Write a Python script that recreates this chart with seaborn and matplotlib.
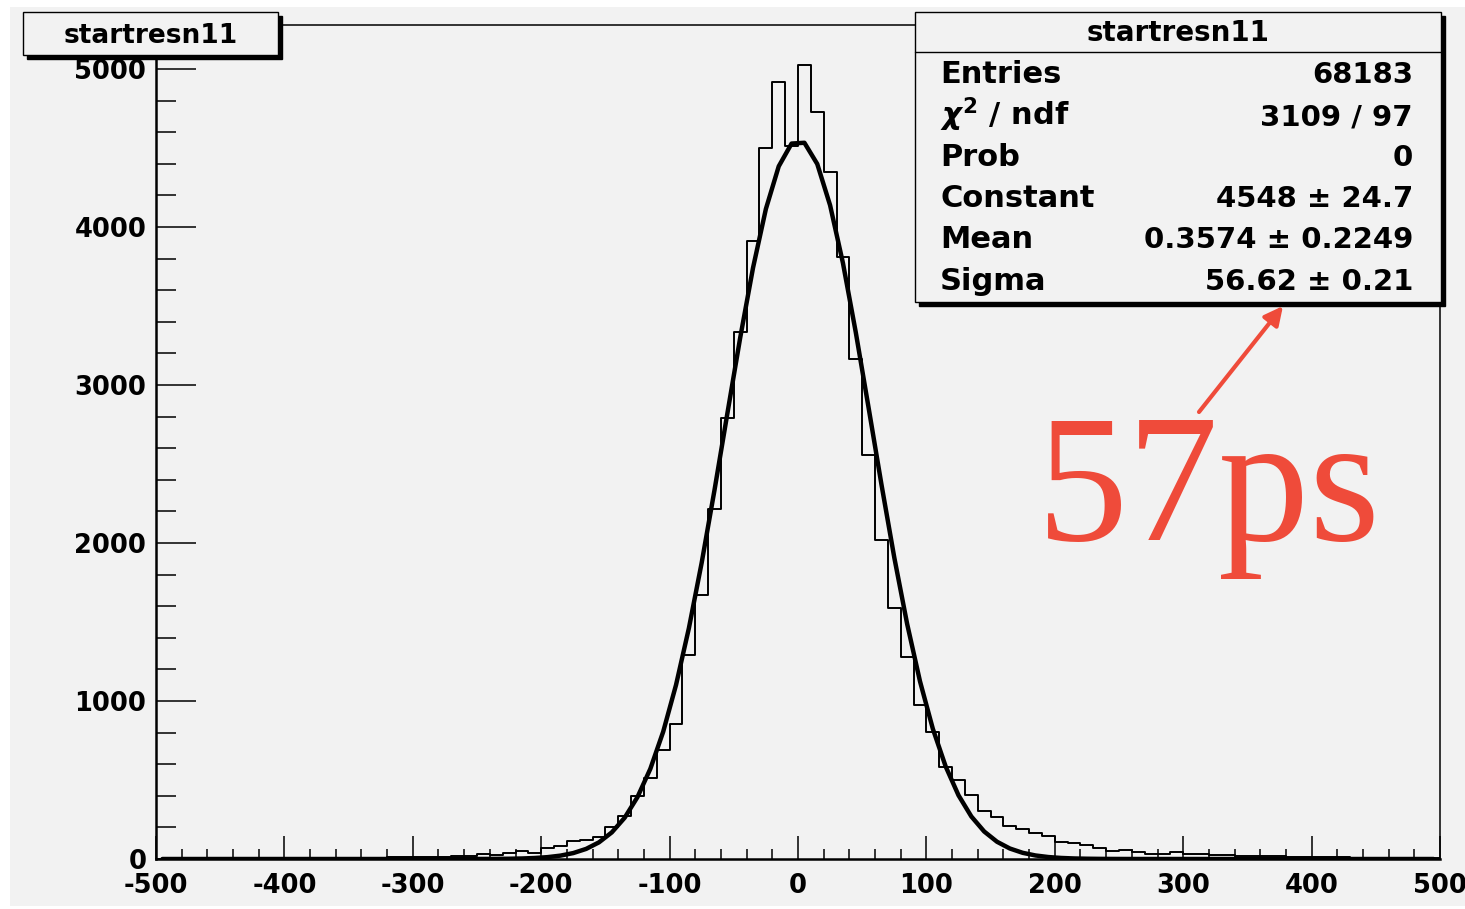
import numpy as np
import pandas as pd
import matplotlib
matplotlib.use("Agg")
import matplotlib.pyplot as plt
from matplotlib.patches import Rectangle, FancyArrowPatch
from matplotlib.ticker import MultipleLocator
import seaborn as sns

# ---- data -------------------------------------------------------------
hist_name = "startresn11"
bin_lo, bin_hi, bin_width = -500, 500, 10

# counts per 10 ps bin, from -500 to 500
counts = [
    1, 2, 1, 2, 2, 3, 2, 3, 3, 4,                 # -500 .. -400
    4, 5, 4, 6, 5, 7, 8, 9, 10, 11,               # -400 .. -300
    12, 13, 15, 16, 20, 32, 27, 38, 53, 40,       # -300 .. -200
    72, 84, 112, 118, 141, 204, 272, 399, 511, 690,       # -200 .. -100
    854, 1290, 1671, 2213, 2789, 3337, 3913, 4502, 4920, 4513,  # -100 .. 0
    5027, 4728, 4350, 3812, 3163, 2557, 2019, 1587, 1276, 975,  # 0 .. 100
    806, 584, 500, 405, 304, 264, 209, 188, 163, 146,     # 100 .. 200
    110, 99, 91, 70, 53, 60, 42, 32, 33, 42,      # 200 .. 300
    32, 30, 27, 25, 22, 20, 20, 17, 15, 12,       # 300 .. 400
    11, 10, 10, 9, 9, 8, 8, 7, 7, 6,              # 400 .. 500
]

# gaussian fit result
fit_constant = 4548
fit_mean = 0.3574
fit_sigma = 56.62

stats_labels = ["Entries", r"$\chi^{2}$ / ndf", "Prob", "Constant", "Mean", "Sigma"]
stats_values = ["68183", "3109 / 97", "0", "4548 \u00b1 24.7",
                "0.3574 \u00b1 0.2249", "56.62 \u00b1 0.21"]

x_ticks = [-500, -400, -300, -200, -100, 0, 100, 200, 300, 400, 500]
y_ticks = [0, 1000, 2000, 3000, 4000, 5000]
annotation = "57ps"

# ---- figure -----------------------------------------------------------
W, H = 1465, 909
BG = "#F2F2F2"
RED = "#EF4B3A"

sns.set_style("white")
plt.rcParams["font.family"] = ["DejaVu Sans"]
plt.rcParams["font.weight"] = "bold"
plt.rcParams["mathtext.fontset"] = "dejavusans"
plt.rcParams["text.color"] = "black"
plt.rcParams["xtick.color"] = "black"
plt.rcParams["ytick.color"] = "black"
plt.rcParams["axes.labelcolor"] = "black"


def fx(px):
    return px / W


def fy(py):
    return 1 - py / H


fig = plt.figure(figsize=(W / 100, H / 100), dpi=100, facecolor="white")
fig.add_artist(Rectangle((fx(10), fy(906)), fx(W - 10), fy(7) - fy(906),
                         transform=fig.transFigure, facecolor=BG,
                         edgecolor="none", zorder=-10))

ax = fig.add_axes([fx(156), fy(859), fx(1440) - fx(156), fy(25) - fy(859)])
ax.set_facecolor(BG)

centers = np.arange(bin_lo, bin_hi, bin_width) + bin_width / 2
df = pd.DataFrame({"t": centers, "n": counts})

sns.histplot(data=df, x="t", weights="n", binwidth=bin_width,
             binrange=(bin_lo, bin_hi), element="step",
             fill=False, color="black", linewidth=1.4, ax=ax)

fit_curve = fit_constant * np.exp(-0.5 * ((centers - fit_mean) / fit_sigma) ** 2)
sns.lineplot(x=centers, y=fit_curve, color="black", linewidth=3.2, ax=ax,
             zorder=4)

ax.set_xlim(bin_lo, bin_hi)
ax.set_ylim(0, 5278)
ax.set_xlabel("")
ax.set_ylabel("")

ax.set_xticks(x_ticks)
ax.set_xticklabels([str(v) for v in x_ticks])
ax.set_yticks(y_ticks)
ax.set_yticklabels([str(v) for v in y_ticks])
ax.xaxis.set_minor_locator(MultipleLocator(20))
ax.yaxis.set_minor_locator(MultipleLocator(200))

ax.tick_params(which="both", left=True, bottom=True, top=False, right=False)
ax.tick_params(axis="y", which="major", direction="in", length=28.8,
               width=1.1, color="black", pad=7, labelsize=18.5,
               labelcolor="black")
ax.tick_params(axis="y", which="minor", direction="in", length=14.4,
               width=1.1, color="black")
ax.tick_params(axis="x", which="major", direction="in", length=16.5,
               width=1.1, color="black", pad=10, labelsize=18.5,
               labelcolor="black")
ax.tick_params(axis="x", which="minor", direction="in", length=7.2,
               width=1.1, color="black")
for lab in ax.get_xticklabels() + ax.get_yticklabels():
    lab.set_fontweight("bold")

for side in ["left", "bottom"]:
    ax.spines[side].set_linewidth(1.8)
for side in ["top", "right"]:
    ax.spines[side].set_linewidth(1.1)
for s in ax.spines.values():
    s.set_color("black")
    s.set_visible(True)


def boxed(x0, y0, x1, y1, shadow=4):
    fig.add_artist(Rectangle((fx(x0 + shadow), fy(y1 + shadow)),
                             fx(x1) - fx(x0), fy(y0) - fy(y1),
                             transform=fig.transFigure, facecolor="black",
                             edgecolor="black", zorder=5))
    fig.add_artist(Rectangle((fx(x0), fy(y1)), fx(x1) - fx(x0), fy(y0) - fy(y1),
                             transform=fig.transFigure, facecolor=BG,
                             edgecolor="black", linewidth=1.0, zorder=6))


# title box
boxed(23, 12, 278, 55)
fig.text(fx(151), fy(43), hist_name, ha="center", va="baseline",
         fontsize=19, fontweight="bold", zorder=7)

# statistics box
boxed(915, 12, 1441, 302)
fig.add_artist(plt.Line2D([fx(915), fx(1441)], [fy(52), fy(52)],
                          transform=fig.transFigure, color="black",
                          linewidth=1.0, zorder=7))
fig.text(fx(1178), fy(41), hist_name, ha="center", va="baseline",
         fontsize=20, fontweight="bold", zorder=7)
row_baselines = [83, 125, 166, 207, 248, 290]
for lab, val, yb in zip(stats_labels, stats_values, row_baselines):
    fig.text(fx(940), fy(yb), lab, ha="left", va="baseline",
             fontsize=22, fontweight="bold", zorder=7)
    fig.text(fx(1413), fy(yb), val, ha="right", va="baseline",
             fontsize=21, fontweight="bold", zorder=7)

# resolution annotation
fig.text(fx(1037), fy(540), annotation, ha="left", va="baseline",
         fontsize=131, fontfamily="Liberation Serif", fontweight="normal",
         color=RED, zorder=7)
fig.add_artist(FancyArrowPatch((fx(1199), fy(412)), (fx(1283), fy(306)),
                               transform=fig.transFigure, arrowstyle="-|>",
                               mutation_scale=28, color=RED, linewidth=3,
                               shrinkA=0, shrinkB=0, zorder=8))

fig.savefig("out.png", dpi=100, facecolor=fig.get_facecolor())
